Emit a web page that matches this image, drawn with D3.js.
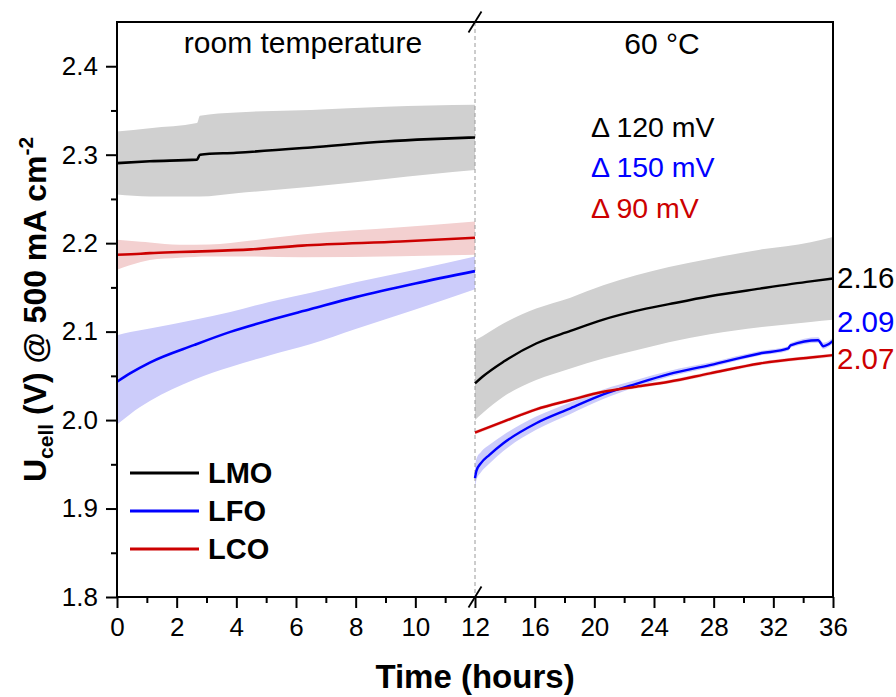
<!DOCTYPE html>
<meta charset="utf-8">
<script src="https://d3js.org/d3.v7.min.js"></script>
<style>
body { margin: 0; background: #fff; }
text { font-family: "Liberation Sans", Arial, sans-serif; fill: #000; }
</style>
<body>
<script>

// rows: [time (h), mean U (V), lower band, upper band]
var lmoRoom = [
  [0, 2.2905, 2.2549, 2.3263],
  [1.1, 2.2926, 2.2527, 2.3300],
  [2.68, 2.2944, 2.2527, 2.3357],
  [2.78, 2.3000, 2.2527, 2.3440],
  [4.0, 2.3022, 2.2564, 2.3477],
  [6.5, 2.3082, 2.2639, 2.3504],
  [9.0, 2.3150, 2.2726, 2.3541],
  [10.5, 2.3176, 2.2780, 2.3555],
  [12, 2.3195, 2.2828, 2.3564]
];
var lfoRoom = [
  [0, 2.0433, 1.9950, 2.0960],
  [0.45, 2.0530, 2.0070, 2.0995],
  [1.1, 2.0650, 2.0215, 2.1035],
  [2.6, 2.0850, 2.0460, 2.1135],
  [3.8, 2.0997, 2.0600, 2.1222],
  [5.1, 2.1128, 2.0730, 2.1335],
  [6.5, 2.1255, 2.0860, 2.1440],
  [8, 2.1390, 2.1030, 2.1557],
  [10, 2.1545, 2.1250, 2.1700],
  [12, 2.1684, 2.1480, 2.1850]
];
var lcoRoom = [
  [0, 2.1869, 2.1700, 2.2038],
  [0.8, 2.1880, 2.1786, 2.2015],
  [1.1, 2.1887, 2.1810, 2.2008],
  [2.1, 2.1900, 2.1835, 2.1982],
  [3.1, 2.1910, 2.1850, 2.1985],
  [4.5, 2.1930, 2.1850, 2.2030],
  [6.2, 2.1972, 2.1842, 2.2098],
  [9.5, 2.2019, 2.1853, 2.2180],
  [12, 2.2061, 2.1869, 2.2245]
];

var lmoHot = [
  [12, 2.0415, 2.0000, 2.0903],
  [12.5, 2.0490, 2.0077, 2.0948],
  [13.9, 2.0659, 2.0264, 2.1091],
  [16.1, 2.0866, 2.0452, 2.1260],
  [18.4, 2.1008, 2.0584, 2.1384],
  [20.6, 2.1136, 2.0697, 2.1523],
  [22.8, 2.1234, 2.0790, 2.1636],
  [25.0, 2.1310, 2.0880, 2.1730],
  [27.75, 2.1400, 2.0970, 2.1824],
  [31.1, 2.1486, 2.1050, 2.1926],
  [34.5, 2.1568, 2.1110, 2.2011],
  [36, 2.1600, 2.1135, 2.2070]
];
var lfoHot = [
  [12, 1.9344, 1.9240, 1.9490],
  [12.1, 1.9428, 1.9325, 1.9565],
  [12.4, 1.9513, 1.9410, 1.9640],
  [12.97, 1.9607, 1.9510, 1.9720],
  [13.9, 1.9738, 1.9650, 1.9830],
  [16.1, 1.9964, 1.9890, 2.0040],
  [18.4, 2.0133, 2.0070, 2.0200],
  [20.6, 2.0290, 2.0237, 2.0347],
  [22.8, 2.0410, 2.0373, 2.0453],
  [25.0, 2.0520, 2.0490, 2.0555],
  [27.75, 2.0621, 2.0595, 2.0650],
  [31.1, 2.0753, 2.0730, 2.0780],
  [33.0, 2.0810, 2.0785, 2.0835],
  [33.15, 2.0845, 2.0820, 2.0870],
  [35.0, 2.0903, 2.0875, 2.0935],
  [35.35, 2.0835, 2.0805, 2.0875],
  [35.7, 2.0858, 2.0830, 2.0895],
  [36, 2.0895, 2.0865, 2.0930]
];
var lcoHot = [
  [12, 1.9858, 1.9838, 1.9878],
  [13.9, 1.9982, 1.9962, 2.0002],
  [16.1, 2.0122, 2.0102, 2.0142],
  [18.4, 2.0227, 2.0207, 2.0247],
  [20.6, 2.0320, 2.0300, 2.0340],
  [22.8, 2.0377, 2.0357, 2.0397],
  [25.0, 2.0433, 2.0413, 2.0453],
  [27.75, 2.0528, 2.0508, 2.0548],
  [31.1, 2.0640, 2.0620, 2.0660],
  [34.5, 2.0708, 2.0688, 2.0728],
  [36, 2.0734, 2.0714, 2.0754]
];

var seriesNames = ["LMO", "LFO", "LCO"];
var lineColors = ["#000000", "#0000ff", "#cc0000"];
var bandColors = ["#d0d0d0", "#ccccfa", "#f3d0d0"];
var deltaLabels = ["\u0394 120 mV", "\u0394 150 mV", "\u0394 90 mV"];
var endLabels = ["2.16", "2.09", "2.07"];

var yTicks = [1.8, 1.9, 2.0, 2.1, 2.2, 2.3, 2.4];
var xTicksLeft = [0, 2, 4, 6, 8, 10, 12];
var xTicksRight = [16, 20, 24, 28, 32, 36];

var width = 896, height = 697;
var mLeft = 117, mRight = 833, mTop = 22, mBottom = 597, brk = 475;

var svg = d3.select("body").append("svg")
    .attr("width", width)
    .attr("height", height);

var y = d3.scaleLinear().domain([1.8, 2.45]).range([mBottom, mTop]);
var xL = d3.scaleLinear().domain([0, 12]).range([mLeft, brk]);
var xR = d3.scaleLinear().domain([12, 36]).range([brk, mRight]);

var roomSets = [lmoRoom, lfoRoom, lcoRoom];
var hotSets = [lmoHot, lfoHot, lcoHot];

function band(xs) {
  return d3.area()
      .x(function(d) { return xs(d[0]); })
      .y0(function(d) { return y(d[2]); })
      .y1(function(d) { return y(d[3]); })
      .curve(d3.curveMonotoneX);
}
function line(xs) {
  return d3.line()
      .x(function(d) { return xs(d[0]); })
      .y(function(d) { return y(d[1]); })
      .curve(d3.curveMonotoneX);
}

var order = [0, 1, 2];
// bands
order.forEach(function(i) {
  svg.append("path").attr("d", band(xL)(roomSets[i])).attr("fill", bandColors[i]);
  svg.append("path").attr("d", band(xR)(hotSets[i])).attr("fill", bandColors[i]);
});

// dashed separator
svg.append("line")
    .attr("x1", brk).attr("x2", brk)
    .attr("y1", mTop).attr("y2", mBottom)
    .attr("stroke", "#9a9a9a")
    .attr("stroke-width", 1)
    .attr("stroke-dasharray", "4,3");

order.forEach(function(i) {
  svg.append("path").attr("d", line(xL)(roomSets[i]))
      .attr("fill", "none").attr("stroke", lineColors[i]).attr("stroke-width", 2.6);
  svg.append("path").attr("d", line(xR)(hotSets[i]))
      .attr("fill", "none").attr("stroke", lineColors[i]).attr("stroke-width", 2.4);
});

// axes
var gy = svg.append("g").attr("transform", "translate(" + mLeft + ",0)");
gy.call(d3.axisLeft(y).tickValues(yTicks).tickSize(11).tickPadding(8).tickFormat(d3.format(".1f")));
gy.append("g").call(d3.axisLeft(y).tickValues([1.85, 1.95, 2.05, 2.15, 2.25, 2.35]).tickSize(6).tickFormat(""));

var gx = svg.append("g").attr("transform", "translate(0," + mBottom + ")");
gx.call(d3.axisBottom(xL).tickValues(xTicksLeft).tickSize(11).tickPadding(10));
gx.append("g").call(d3.axisBottom(xL).tickValues([1, 3, 5, 7, 9, 11]).tickSize(6).tickFormat(""));
gx.append("g").call(d3.axisBottom(xR).tickValues(xTicksRight).tickSize(11).tickPadding(10));
gx.append("g").call(d3.axisBottom(xR).tickValues([14, 18, 22, 26, 30, 34]).tickSize(6).tickFormat(""));

svg.selectAll(".domain").remove();
svg.selectAll(".tick line").attr("stroke", "#000").attr("stroke-width", 2);
svg.selectAll(".tick text").attr("fill", "#000").style("font-size", "26px")
    .style("font-family", "'Liberation Sans', Arial, sans-serif");

// frame
svg.append("rect")
    .attr("x", mLeft).attr("y", mTop)
    .attr("width", mRight - mLeft).attr("height", mBottom - mTop)
    .attr("fill", "none").attr("stroke", "#000").attr("stroke-width", 2);

// break marks
[mTop, mBottom].forEach(function(yy) {
  svg.append("line")
      .attr("x1", brk - 6.5).attr("y1", yy + 10.5)
      .attr("x2", brk + 6.5).attr("y2", yy - 10.5)
      .attr("stroke", "#000").attr("stroke-width", 1.8);
});

// region labels
svg.append("text").attr("x", 303).attr("y", 53).attr("text-anchor", "middle")
    .style("font-size", "30px").text("room temperature");
svg.append("text").attr("x", 662).attr("y", 54).attr("text-anchor", "middle")
    .style("font-size", "30px").text("60 \u00B0C");

// delta annotations
var deltaY = [137, 177, 218];
deltaLabels.forEach(function(s, i) {
  svg.append("text").attr("x", 591).attr("y", deltaY[i])
      .style("fill", lineColors[i])
      .style("font-size", "28.5px").text(s);
});

// end values
var endY = [288, 332, 369];
endLabels.forEach(function(s, i) {
  svg.append("text").attr("x", 837).attr("y", endY[i])
      .style("fill", lineColors[i])
      .style("font-size", "29.5px").text(s);
});

// legend
var legY = [473, 511, 549];
seriesNames.forEach(function(s, i) {
  svg.append("line")
      .attr("x1", 130).attr("x2", 199)
      .attr("y1", legY[i]).attr("y2", legY[i])
      .attr("stroke", lineColors[i]).attr("stroke-width", 3);
  svg.append("text").attr("x", 208).attr("y", legY[i] + 10)
      .style("font-size", "29px").style("font-weight", "bold").text(s);
});

// axis titles
svg.append("text").attr("x", 475).attr("y", 688).attr("text-anchor", "middle")
    .style("font-size", "33px").style("font-weight", "bold").text("Time (hours)");

var yt = svg.append("text")
    .attr("transform", "translate(46," + ((mTop + mBottom) / 2) + ") rotate(-90)")
    .attr("text-anchor", "middle")
    .style("font-size", "32px").style("font-weight", "bold");
yt.append("tspan").text("U");
yt.append("tspan").attr("dy", 7).style("font-size", "21px").text("cell");
yt.append("tspan").attr("dy", -7).text(" (V) @ 500 mA cm");
yt.append("tspan").attr("dy", -13).style("font-size", "21px").text("-2");

</script>
</body>
